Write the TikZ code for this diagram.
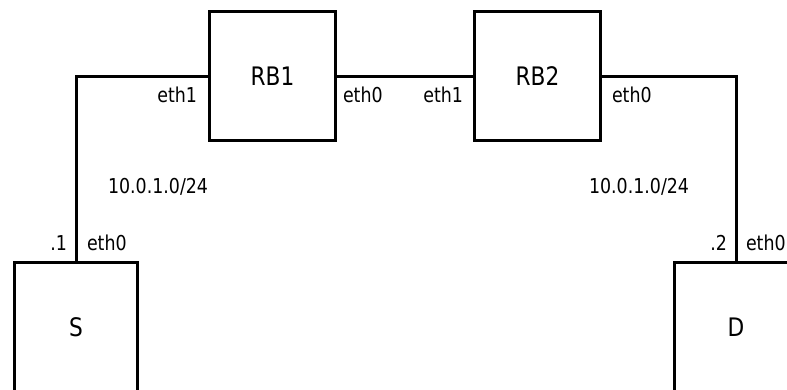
\documentclass[tikz,border=0pt]{standalone}
\usepackage{fontspec}
\setmainfont{DejaVu Sans}[FakeStretch=0.85]
\begin{document}
\begin{tikzpicture}[x=1pt,y=-1pt,
  device/.style={draw, line width=3pt, outer sep=0pt, inner sep=0pt,
    font=\fontsize{25.5}{29}\selectfont},
  router/.style={device, minimum width=126pt, minimum height=129pt},
  hostbox/.style={device, minimum width=123pt, minimum height=129pt},
  link/.style={line width=3pt},
  lbl/.style={inner sep=0pt, outer sep=0pt, font=\fontsize{20.5}{24}\selectfont}]
  \useasboundingbox (0,0) rectangle (787,389);

  % devices
  \node[router]  (RB1) at (272.5,76)  {RB1};
  \node[router]  (RB2) at (537.5,76)  {RB2};
  \node[hostbox] (S)   at (76,327)    {S};
  \node[hostbox] (D)   at (736,327)   {D};

  % links
  \draw[link] (S.north) |- (RB1.west);
  \draw[link] (RB1.east) -- (RB2.west);
  \draw[link] (RB2.east) -| (D.north);

  % interface labels
  \node[lbl, anchor=base east] (rb1e1) at (197,102) {eth1};
  \node[lbl, anchor=base west] (rb1e0) at (343,102) {eth0};
  \node[lbl, anchor=base east] (rb2e1) at (463,102) {eth1};
  \node[lbl, anchor=base west] (rb2e0) at (612,102) {eth0};

  % subnet labels
  \node[lbl, anchor=base west] (netl) at (108,193) {10.0.1.0/24};
  \node[lbl, anchor=base west] (netr) at (589,193) {10.0.1.0/24};

  % host addresses and interfaces
  \node[lbl, anchor=base east] (sip)  at (67,250)  {.1};
  \node[lbl, anchor=base west] (seth) at (87,250)  {eth0};
  \node[lbl, anchor=base east] (dip)  at (727,250) {.2};
  \node[lbl, anchor=base west] (deth) at (746,250) {eth0};
\end{tikzpicture}
\end{document}
